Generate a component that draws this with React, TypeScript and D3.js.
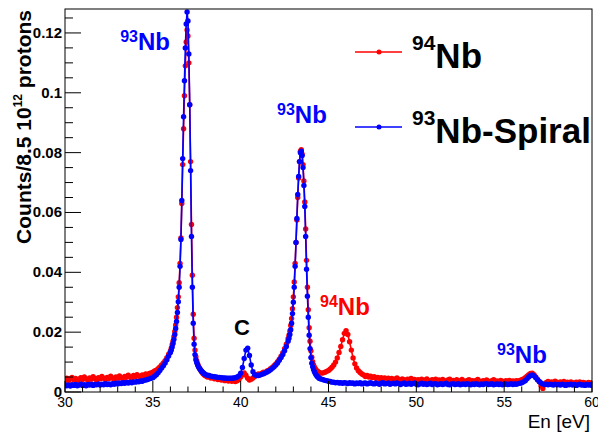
import React from "react";
import * as d3 from "d3";

// Histogram bin grids (start energy, bin width) for each data segment
const segStarts = [30, 36, 38, 42.75, 44.6];
const segSteps = [0.1, 0.05, 0.1, 0.05, 0.1];

// 93Nb-Spiral (blue)
const blueA = [
  .0024,.0021,.0023,.0020,.0024,.0022,.0025,.0021,.0023,.0026,
  .0022,.0024,.0021,.0025,.0023,.0026,.0022,.0025,.0024,.0027,
  .0023,.0026,.0024,.0028,.0025,.0027,.0024,.0028,.0026,.0029,
  .0027,.0030,.0028,.0031,.0029,.0032,.0030,.0033,.0031,.0034,
  .0033,.0035,.0034,.0037,.0036,.0039,.0040,.0042,.0044,.0046,
  .0048,.0053,.0058,.0064,.0072,.0080,.0088,.0097,.0108,.0120,
];
const blueB = [
  .0132,.0140,.0150,.0162,.0176,.0192,.0212,.0236,.0266,.0302,
  .0350,.0420,.0510,.0640,.0780,.0920,.1040,.1150,.1230,.1270,
  .1240,.1130,.0960,.0740,.0520,.0350,.0230,.0160,.0125,.0108,
  .0098,.0090,.0084,.0079,.0075,.0071,.0068,.0065,.0062,.0060,
];
const blueC = [
  .0058,.0056,.0055,.0053,.0052,.0051,.0050,.0049,.0049,.0048,
  .0047,.0047,.0046,.0046,.0046,.0046,.0047,.0048,.0050,.0054,
  .0063,.0082,.0112,.0140,.0146,.0122,.0090,.0068,.0058,.0055,
  .0055,.0057,.0059,.0061,.0064,.0067,.0070,.0074,.0079,.0084,
  .0090,.0097,.0106,.0115,.0125,.0138,.0152,.0170,
];
const blueD = [
  .0180,.0192,.0208,.0230,.0262,.0300,.0350,.0420,.0500,.0580,
  .0660,.0720,.0770,.0800,.0805,.0790,.0750,.0690,.0620,.0520,
  .0410,.0320,.0250,.0190,.0145,.0115,.0096,.0084,.0075,.0068,
  .0062,.0057,.0053,.0050,.0047,.0045,
];
const blueE = [
  .0043,.0041,.0039,.0038,.0036,.0035,.0033,.0033,.0031,.0032,
  .0030,.0031,.0029,.0031,.0030,.0028,.0031,.0029,.0030,.0027,
  .0030,.0028,.0031,.0027,.0029,.0030,.0027,.0029,.0031,.0028,
  .0027,.0030,.0028,.0026,.0029,.0031,.0027,.0028,.0030,.0026,
  .0028,.0029,.0027,.0030,.0028,.0025,.0028,.0030,.0026,.0027,
  .0029,.0026,.0028,.0030,.0026,.0024,.0027,.0029,.0026,.0028,
  .0025,.0027,.0029,.0025,.0027,.0028,.0024,.0026,.0028,.0025,
  .0027,.0029,.0025,.0024,.0027,.0028,.0025,.0026,.0028,.0024,
  .0026,.0027,.0025,.0028,.0026,.0024,.0027,.0025,.0028,.0026,
  .0024,.0027,.0025,.0027,.0028,.0025,.0026,.0028,.0024,.0026,
  .0027,.0025,.0027,.0024,.0026,.0027,.0025,.0026,.0028,.0025,
  .0027,.0026,.0028,.0029,.0031,.0034,.0038,.0044,.0050,.0055,
  .0057,.0054,.0048,.0041,.0035,.0030,.0027,.0025,.0026,.0024,
  .0026,.0025,.0023,.0026,.0024,.0025,.0023,.0026,.0024,.0022,
  .0025,.0024,.0026,.0023,.0025,.0022,.0024,.0026,.0023,.0024,
  .0022,.0025,.0023,.0024,.0022,
];

// 94Nb (red)
const redA = [
  .0040,.0046,.0038,.0044,.0049,.0041,.0045,.0037,.0043,.0048,
  .0042,.0050,.0044,.0039,.0047,.0043,.0051,.0045,.0040,.0048,
  .0044,.0052,.0046,.0041,.0049,.0045,.0053,.0047,.0042,.0050,
  .0046,.0054,.0048,.0044,.0052,.0049,.0056,.0050,.0047,.0055,
  .0052,.0058,.0053,.0050,.0057,.0055,.0060,.0058,.0062,.0064,
  .0066,.0070,.0073,.0078,.0084,.0090,.0097,.0105,.0115,.0126,
];
const redB = [
  .0136,.0146,.0158,.0170,.0185,.0202,.0224,.0250,.0282,.0318,
  .0365,.0430,.0515,.0630,.0760,.0880,.0990,.1090,.1170,.1210,
  .1190,.1100,.0960,.0770,.0560,.0390,.0260,.0180,.0140,.0118,
  .0104,.0094,.0086,.0080,.0075,.0070,.0066,.0062,.0059,.0056,
];
const redC = [
  .0054,.0050,.0052,.0047,.0049,.0044,.0046,.0042,.0045,.0040,
  .0043,.0038,.0041,.0037,.0040,.0036,.0039,.0035,.0038,.0042,
  .0050,.0058,.0064,.0056,.0046,.0040,.0043,.0047,.0052,.0056,
  .0060,.0058,.0063,.0066,.0064,.0070,.0073,.0078,.0082,.0088,
  .0094,.0101,.0110,.0120,.0131,.0145,.0160,.0178,
];
const redD = [
  .0190,.0204,.0222,.0246,.0278,.0318,.0368,.0430,.0500,.0575,
  .0650,.0715,.0770,.0805,.0810,.0795,.0760,.0705,.0635,.0545,
  .0440,.0350,.0275,.0215,.0170,.0138,.0116,.0101,.0090,.0083,
  .0078,.0073,.0070,.0068,.0066,.0064,
];
const redE = [
  .0063,.0064,.0066,.0069,.0072,.0077,.0083,.0090,.0100,.0114,
  .0132,.0152,.0175,.0196,.0205,.0192,.0168,.0140,.0114,.0094,
  .0080,.0071,.0065,.0060,.0057,.0052,.0055,.0050,.0053,.0048,
  .0051,.0046,.0049,.0045,.0048,.0044,.0047,.0043,.0046,.0042,
  .0045,.0041,.0044,.0047,.0042,.0039,.0044,.0041,.0038,.0043,
  .0040,.0045,.0039,.0042,.0037,.0041,.0038,.0043,.0036,.0040,
  .0044,.0038,.0035,.0041,.0039,.0043,.0036,.0040,.0037,.0042,
  .0038,.0034,.0040,.0043,.0037,.0039,.0035,.0041,.0038,.0036,
  .0042,.0037,.0034,.0039,.0041,.0036,.0038,.0033,.0039,.0042,
  .0036,.0034,.0038,.0035,.0040,.0036,.0033,.0038,.0041,.0035,
  .0037,.0034,.0039,.0036,.0033,.0038,.0035,.0039,.0034,.0037,
  .0035,.0038,.0036,.0039,.0041,.0044,.0048,.0053,.0058,.0062,
  .0063,.0058,.0050,.0042,.0034,.0022,.0012,.0024,.0032,.0035,
  .0031,.0034,.0030,.0036,.0033,.0029,.0034,.0031,.0035,.0030,
  .0033,.0029,.0034,.0031,.0028,.0033,.0030,.0034,.0029,.0032,
  .0030,.0027,.0032,.0029,.0031,
];

const xTicks = [30, 35, 40, 45, 50, 55, 60];
const yTicks = [0, 0.02, 0.04, 0.06, 0.08, 0.1, 0.12];
const yTickLabels = ["0", "0.02", "0.04", "0.06", "0.08", "0.1", "0.12"];
const xMinorTicks = d3.range(30, 60.001, 1);
const yMinorTicks = d3.range(0, 0.1276, 0.005);

const W = 598;
const H = 435;
const L = 65, R = 592, T = 9, B = 392;
const FONT = "'Liberation Sans', Arial, Helvetica, sans-serif";
const RED = "#ff0000";
const BLUE = "#0000ff";

function build(segs: number[][]): [number, number][] {
  const out: [number, number][] = [];
  segs.forEach((vals, k) => {
    vals.forEach((v, i) => out.push([segStarts[k] + i * segSteps[k], v]));
  });
  return out;
}

const redPts = build([redA, redB, redC, redD, redE]);
const bluePts = build([blueA, blueB, blueC, blueD, blueE]);

function Label({ x, y, sup, main, color, anchor = "start", supSize = 16, mainSize = 24, raise = 8 }:
  { x: number; y: number; sup: string; main: string; color: string; anchor?: string; supSize?: number; mainSize?: number; raise?: number }) {
  return (
    <text x={x} y={y} fill={color} fontFamily={FONT} fontWeight="bold" textAnchor={anchor as any}>
      <tspan fontSize={supSize} dy={-raise}>{sup}</tspan>
      <tspan fontSize={mainSize} dy={raise}>{main}</tspan>
    </text>
  );
}

export default function App() {
  const x = d3.scaleLinear().domain([30, 60]).range([L, R]);
  const y = d3.scaleLinear().domain([0, 0.128]).range([B, T]);
  const line = d3.line<[number, number]>().x((d) => x(d[0])).y((d) => y(d[1]));

  const series = [
    { pts: redPts, color: RED },
    { pts: bluePts, color: BLUE },
  ];

  return (
    <svg width={W} height={H} style={{ position: "absolute", left: 0, top: 0, background: "#fff" }}>
      <rect x={0} y={0} width={W} height={H} fill="#fff" />
      <defs>
        <clipPath id="plot">
          <rect x={L} y={T} width={R - L} height={B - T} />
        </clipPath>
      </defs>
      <g clipPath="url(#plot)">
        {series.map((s, si) => (
          <g key={si}>
            <path d={line(s.pts) || ""} fill="none" stroke={s.color} strokeWidth={1.6} />
            {s.pts.map((p, i) => (
              <circle key={i} cx={x(p[0])} cy={y(p[1])} r={2.7} fill={s.color} />
            ))}
          </g>
        ))}
      </g>
      {/* frame */}
      <rect x={L} y={T} width={R - L} height={B - T} fill="none" stroke="#000" strokeWidth={1} />
      {/* x ticks */}
      {xMinorTicks.map((t) => (
        <line key={"xm" + t} x1={x(t)} x2={x(t)} y1={B} y2={B - (t % 5 === 0 ? 11 : 5.5)} stroke="#000" strokeWidth={1} />
      ))}
      {xTicks.map((t) => (
        <text key={"xl" + t} x={x(t)} y={407} fontFamily={FONT} fontSize={14} textAnchor="middle" fill="#000">{t}</text>
      ))}
      {/* y ticks */}
      {yMinorTicks.map((t, i) => (
        <line key={"ym" + i} x1={L} x2={L + (i % 4 === 0 ? 16 : 8)} y1={y(t)} y2={y(t)} stroke="#000" strokeWidth={1} />
      ))}
      {yTicks.map((t, i) => (
        <text key={"yl" + t} x={62} y={y(t) + 5} fontFamily={FONT} fontSize={15} fontWeight="bold" textAnchor="end" fill="#000">{yTickLabels[i]}</text>
      ))}
      {/* axis titles */}
      <text x={590} y={428} fontFamily={FONT} fontSize={19} textAnchor="end" fill="#000">En [eV]</text>
      <text transform={`translate(31, ${T + 1}) rotate(-90)`} fontFamily={FONT} fontSize={21} fontWeight="bold" textAnchor="end" fill="#000">
        Counts/8.5 10<tspan fontSize={12} dy={-9}>12</tspan><tspan dy={9}> protons</tspan>
      </text>
      {/* annotations */}
      <Label x={170} y={50} sup="93" main="Nb" color={BLUE} anchor="end" />
      <Label x={277} y={123} sup="93" main="Nb" color={BLUE} />
      <text x={242} y={335} fontFamily={FONT} fontSize={22} fontWeight="bold" textAnchor="middle" fill="#000">C</text>
      <Label x={320} y={315} sup="94" main="Nb" color={RED} />
      <Label x={497} y={363} sup="93" main="Nb" color={BLUE} />
      {/* legend */}
      <line x1={355} x2={402} y1={52} y2={52} stroke={RED} strokeWidth={1.5} />
      <circle cx={379} cy={52} r={2.5} fill={RED} />
      <Label x={412} y={68} sup="94" main="Nb" color="#000" supSize={21} mainSize={35} raise={18} />
      <line x1={355} x2={402} y1={127} y2={127} stroke={BLUE} strokeWidth={1.5} />
      <circle cx={379} cy={127} r={2.5} fill={BLUE} />
      <Label x={412} y={143} sup="93" main="Nb-Spiral" color="#000" supSize={21} mainSize={35} raise={18} />
    </svg>
  );
}
